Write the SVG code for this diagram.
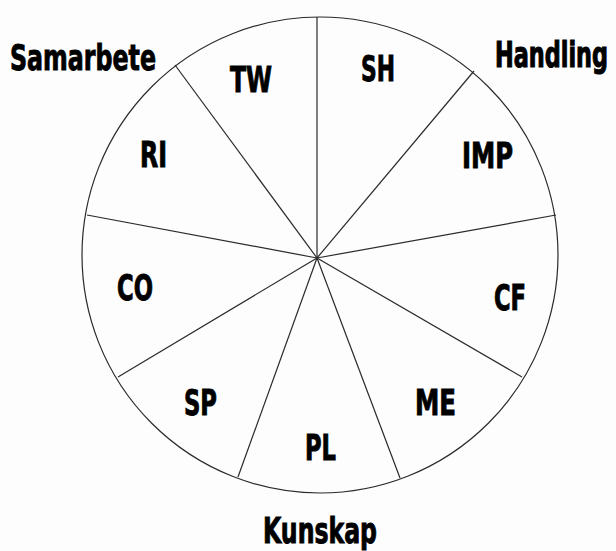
<svg xmlns="http://www.w3.org/2000/svg" width="616" height="551" viewBox="0 0 616 551">
<style>
.ln{stroke:#2a2a2a;stroke-width:1.2;fill:none}
.t{font-family:"DejaVu Sans Condensed","DejaVu Sans",sans-serif;font-weight:bold;fill:#000;stroke:#000;stroke-width:0.9;font-size:36px}
</style>
<rect width="616" height="551" fill="#fdfdfd"/>
<g id="wheel">
<circle class="ln" cx="320" cy="255" r="238"/>
</g>
<g id="connectors">
<line class="ln" x1="317" y1="258" x2="317" y2="17"/>
<line class="ln" x1="317" y1="258" x2="474" y2="71"/>
<line class="ln" x1="317" y1="258" x2="556" y2="215"/>
<line class="ln" x1="317" y1="258" x2="522" y2="377"/>
<line class="ln" x1="317" y1="258" x2="400" y2="478"/>
<line class="ln" x1="317" y1="258" x2="238" y2="477"/>
<line class="ln" x1="317" y1="258" x2="118" y2="377"/>
<line class="ln" x1="317" y1="258" x2="87" y2="215"/>
<line class="ln" x1="317" y1="258" x2="175" y2="65"/>
</g>
<g id="n-SH"><text class="t" x="361" y="81" textLength="34" lengthAdjust="spacingAndGlyphs">SH</text></g>
<g id="n-TW"><text class="t" x="230" y="92" textLength="42" lengthAdjust="spacingAndGlyphs">TW</text></g>
<g id="n-IMP"><text class="t" x="462" y="168" textLength="51" lengthAdjust="spacingAndGlyphs">IMP</text></g>
<g id="n-RI"><text class="t" x="140" y="167" textLength="27" lengthAdjust="spacingAndGlyphs">RI</text></g>
<g id="n-CO"><text class="t" x="117" y="300" textLength="36" lengthAdjust="spacingAndGlyphs">CO</text></g>
<g id="n-CF"><text class="t" x="494" y="310" textLength="32" lengthAdjust="spacingAndGlyphs">CF</text></g>
<g id="n-SP"><text class="t" x="184" y="415" textLength="33" lengthAdjust="spacingAndGlyphs">SP</text></g>
<g id="n-ME"><text class="t" x="415" y="415" textLength="41" lengthAdjust="spacingAndGlyphs">ME</text></g>
<g id="n-PL"><text class="t" x="305" y="460" textLength="31" lengthAdjust="spacingAndGlyphs">PL</text></g>
<g id="n-Samarbete"><text class="t" x="10" y="70" textLength="146" lengthAdjust="spacingAndGlyphs">Samarbete</text></g>
<g id="n-Handling"><text class="t" transform="translate(495,67) scale(0.72,1)" x="0" y="0" textLength="157" lengthAdjust="spacingAndGlyphs" style="stroke-width:1.1">Handling</text></g>
<g id="n-Kunskap"><text class="t" x="263" y="543" textLength="114" lengthAdjust="spacingAndGlyphs">Kunskap</text></g>
</svg>
